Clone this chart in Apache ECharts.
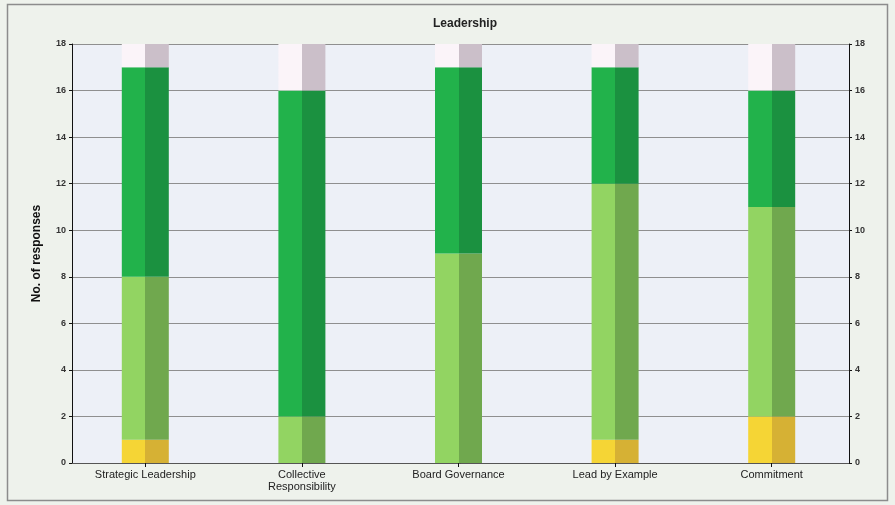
<!DOCTYPE html>
<html>
<head>
<meta charset="utf-8">
<script src="https://cdn.jsdelivr.net/npm/echarts@6/dist/echarts.min.js"></script>
<style>
  html, body { margin: 0; padding: 0; background: #fff; }
  #chart { width: 895px; height: 505px; }
</style>
</head>
<body>
<div id="chart"></div>
<script>
// categories along the x axis
var categories = ['Strategic Leadership', 'Collective\nResponsibility', 'Board Governance', 'Lead by Example', 'Commitment'];
// stacked response counts (bottom to top)
var yellowVals = [1, 0, 0, 1, 2];
var lightGreenVals = [7, 2, 9, 11, 9];
var darkGreenVals = [9, 14, 8, 5, 5];
var restVals = [1, 2, 1, 1, 2]; // unanswered part up to 18
var yTicks = [0, 2, 4, 6, 8, 10, 12, 14, 16, 18];

// two-tone fill: light left half, darker right half
function split(c1, c2) {
  return new echarts.graphic.LinearGradient(0, 0, 1, 0, [
    { offset: 0, color: c1 }, { offset: 0.5, color: c1 },
    { offset: 0.5, color: c2 }, { offset: 1, color: c2 }
  ]);
}

var chart = echarts.init(document.getElementById('chart'));

// bars live in the second grid (xAxis 2 / yAxis 2)
function seg(name, data, c1, c2) {
  return {
    name: name,
    type: 'bar',
    stack: 'all',
    xAxisIndex: 2,
    yAxisIndex: 2,
    barWidth: 47,
    data: data,
    itemStyle: { color: split(c1, c2) },
    silent: true
  };
}

var labelFont = { fontFamily: 'Arial', fontSize: 9, fontWeight: 'bold', color: '#333', margin: 6 };

var option = {
  animation: false,
  backgroundColor: '#eef2ec',
  title: {
    text: 'Leadership',
    left: 460, top: 13, textAlign: 'center',
    textStyle: { fontFamily: 'Arial', fontSize: 12, fontWeight: 'bold', color: '#222' }
  },
  graphic: [{
    type: 'rect', z: -10,
    shape: { x: 7.5, y: 4.5, width: 880, height: 496 },
    style: { fill: 'none', stroke: '#8c8c8c', lineWidth: 1.5 }
  }],
  grid: [
    // frame with the two value axes
    { left: 72, right: 46, top: 44, bottom: 42, show: true, backgroundColor: '#edf0f7', borderWidth: 0 },
    // category band for bars and labels (slightly shifted like the original)
    { left: 67, right: 45, top: 44, bottom: 42 }
  ],
  xAxis: [{
    gridIndex: 0, type: 'category', data: categories,
    axisLine: { lineStyle: { color: '#111', width: 1 } },
    axisTick: { show: false }, axisLabel: { show: false }
  }, {
    gridIndex: 0, type: 'category', data: categories, position: 'top',
    axisLine: { lineStyle: { color: '#555', width: 1 } },
    axisTick: { show: false }, axisLabel: { show: false }
  }, {
    gridIndex: 1, type: 'category', data: categories,
    axisLine: { show: false },
    axisTick: { show: true, alignWithLabel: true, length: 4, lineStyle: { color: '#111' } },
    axisLabel: { fontFamily: 'Arial', fontSize: 11, color: '#222', margin: 6, lineHeight: 12 }
  }],
  yAxis: [{
    gridIndex: 0, type: 'value', min: 0, max: 18, interval: 2,
    name: 'No. of responses', nameLocation: 'middle', nameGap: 29, nameRotate: 90,
    nameTextStyle: { fontFamily: 'Arial', fontSize: 12, fontWeight: 'bold', color: '#111' },
    axisLine: { show: true, lineStyle: { color: '#111' } },
    axisTick: { show: true, length: 3, lineStyle: { color: '#111' } },
    axisLabel: Object.assign({ formatter: function (v) { return yTicks.indexOf(v) >= 0 ? v : ''; } }, labelFont),
    splitLine: { lineStyle: { color: '#8f8f8f', width: 1 } }
  }, {
    gridIndex: 0, type: 'value', min: 0, max: 18, interval: 2, position: 'right',
    axisLine: { show: true, lineStyle: { color: '#111' } },
    axisTick: { show: true, length: 3, lineStyle: { color: '#111' } },
    axisLabel: labelFont,
    splitLine: { show: false }
  }, {
    gridIndex: 1, type: 'value', min: 0, max: 18, interval: 2, show: false
  }],
  series: [
    seg('Yellow', yellowVals, '#f5d535', '#d6b134'),
    seg('Light green', lightGreenVals, '#92d462', '#70a84e'),
    seg('Dark green', darkGreenVals, '#22b24b', '#1b9140'),
    seg('Remaining', restVals, '#fbf4f9', '#cbbfc9')
  ]
};

chart.setOption(option);
</script>
</body>
</html>
